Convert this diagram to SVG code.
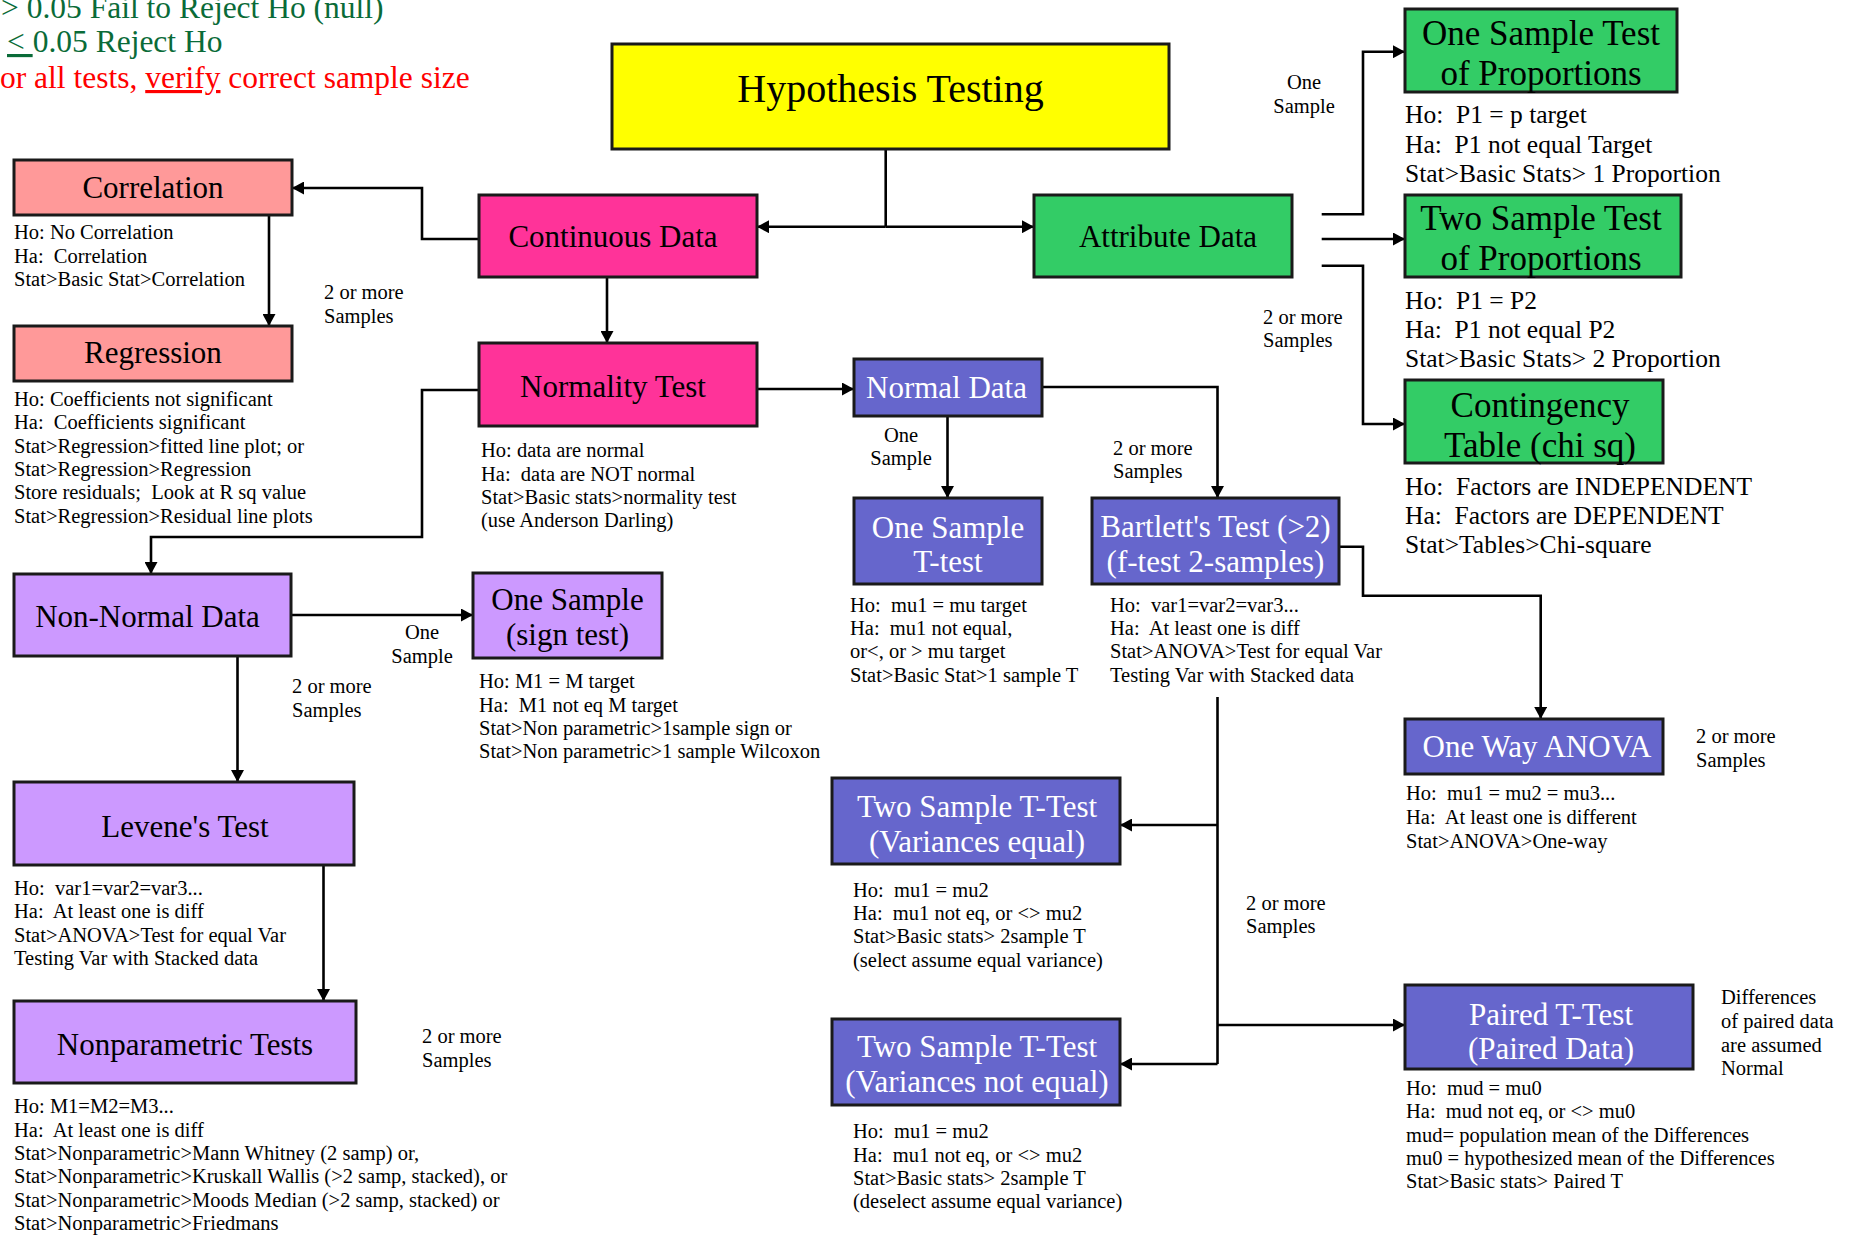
<svg xmlns="http://www.w3.org/2000/svg" width="1855" height="1235" viewBox="0 0 1855 1235">
<style>
text{font-family:"Liberation Serif","Times New Roman",serif;fill:#000}
.box{stroke:#1a1a1a;stroke-width:3}
.yel{fill:#ffff00}.sal{fill:#ff9999}.pnk{fill:#ff3399}.grn{fill:#33cc66}.lav{fill:#cc99ff}.blu{fill:#6666cc}
.lbl{font-size:31px;text-anchor:middle}
.plbl{font-size:35px;text-anchor:middle}
.w{fill:#fff}
.body{font-size:20.5px}
.big{font-size:25.5px}
.mid{text-anchor:middle}
.hdr{font-size:31.5px}
.gr{fill:#0a6b38}
.rd{fill:#ff0000}
.ul{text-decoration:underline}
#connectors path{fill:none;stroke:#000;stroke-width:2.6}
</style>
<defs>
<marker id="ah" markerUnits="userSpaceOnUse" markerWidth="12" markerHeight="13" viewBox="0 0 12 13" refX="12" refY="6.5" orient="auto">
<path d="M0,0 L12,6.5 L0,13 z" fill="#000"/>
</marker>
</defs>
<rect width="1855" height="1235" fill="#fff"/>

<g id="header">
<text class="hdr gr" x="1" y="18">&gt; 0.05 Fail to Reject Ho (null)</text>
<text class="hdr gr" x="7" y="52"><tspan class="ul">&lt; </tspan>0.05 Reject Ho</text>
<text class="hdr rd" x="0" y="88">or all tests, <tspan class="ul">verify</tspan> correct sample size</text>
</g>

<g id="connectors">
<path d="M885.7,149 V226.7"/>
<path d="M885.7,226.7 H757" marker-end="url(#ah)"/>
<path d="M885.7,226.7 H1034" marker-end="url(#ah)"/>
<path d="M479,239 H422 V188 H292" marker-end="url(#ah)"/>
<path d="M269,215 V326" marker-end="url(#ah)"/>
<path d="M607,277 V343" marker-end="url(#ah)"/>
<path d="M757,389 H854" marker-end="url(#ah)"/>
<path d="M479,390 H422 V537 H151 V574" marker-end="url(#ah)"/>
<path d="M291,615 H473" marker-end="url(#ah)"/>
<path d="M237.5,656 V782" marker-end="url(#ah)"/>
<path d="M323.5,865 V1001" marker-end="url(#ah)"/>
<path d="M947.5,416 V498" marker-end="url(#ah)"/>
<path d="M1042,387 H1217.5 V498" marker-end="url(#ah)"/>
<path d="M1339,546.7 H1363 V595.7 H1540.7 V719" marker-end="url(#ah)"/>
<path d="M1217.5,697 V1064"/>
<path d="M1217.5,825 H1120" marker-end="url(#ah)"/>
<path d="M1217.5,1025 H1405" marker-end="url(#ah)"/>
<path d="M1217.5,1064 H1120" marker-end="url(#ah)"/>
<path d="M1321.7,214.3 H1363 V51.7 H1405" marker-end="url(#ah)"/>
<path d="M1321.7,239 H1405" marker-end="url(#ah)"/>
<path d="M1321.7,265.7 H1363 V424 H1405" marker-end="url(#ah)"/>
</g>

<g id="edge-labels">
<text class="body mid" x="1304" y="89">One<tspan x="1304" y="113">Sample</tspan></text>
<text class="body" x="1263" y="324">2 or more<tspan x="1263" y="347">Samples</tspan></text>
<text class="body" x="324" y="299">2 or more<tspan x="324" y="323">Samples</tspan></text>
<text class="body mid" x="901" y="442">One<tspan x="901" y="465">Sample</tspan></text>
<text class="body" x="1113" y="455">2 or more<tspan x="1113" y="478">Samples</tspan></text>
<text class="body mid" x="422" y="639">One<tspan x="422" y="663">Sample</tspan></text>
<text class="body" x="292" y="693">2 or more<tspan x="292" y="717">Samples</tspan></text>
<text class="body" x="1696" y="743">2 or more<tspan x="1696" y="767">Samples</tspan></text>
<text class="body" x="1246" y="910">2 or more<tspan x="1246" y="933">Samples</tspan></text>
<text class="body" x="422" y="1043">2 or more<tspan x="422" y="1067">Samples</tspan></text>
<text class="body" x="1721" y="1004">Differences<tspan x="1721" y="1027.5">of paired data</tspan><tspan x="1721" y="1051.5">are assumed</tspan><tspan x="1721" y="1075">Normal</tspan></text>
</g>

<g id="hypothesis-testing">
<rect class="box yel" x="612" y="44" width="557" height="105"/>
<text class="mid" style="font-size:40px" x="890.5" y="102">Hypothesis Testing</text>
</g>

<g id="correlation">
<rect class="box sal" x="14" y="160" width="278" height="55"/>
<text class="lbl" x="153" y="198">Correlation</text>
<text class="body" x="14" y="239">Ho: No Correlation<tspan x="14" y="262.5">Ha:&#160; Correlation</tspan><tspan x="14" y="286">Stat&gt;Basic Stat&gt;Correlation</tspan></text>
</g>

<g id="regression">
<rect class="box sal" x="14" y="326" width="278" height="55"/>
<text class="lbl" x="153" y="363">Regression</text>
<text class="body" x="14" y="406">Ho: Coefficients not significant<tspan x="14" y="429.3">Ha:&#160; Coefficients significant</tspan><tspan x="14" y="452.7">Stat&gt;Regression&gt;fitted line plot; or</tspan><tspan x="14" y="476">Stat&gt;Regression&gt;Regression</tspan><tspan x="14" y="499.3">Store residuals;&#160; Look at R sq value</tspan><tspan x="14" y="522.7">Stat&gt;Regression&gt;Residual line plots</tspan></text>
</g>

<g id="continuous-data">
<rect class="box pnk" x="479" y="195" width="278" height="82"/>
<text class="lbl" x="613" y="247">Continuous Data</text>
</g>

<g id="attribute-data">
<rect class="box grn" x="1034" y="195" width="258" height="82"/>
<text class="lbl" x="1168" y="247">Attribute Data</text>
</g>

<g id="normality-test">
<rect class="box pnk" x="479" y="343" width="278" height="83"/>
<text class="lbl" x="613" y="397">Normality Test</text>
<text class="body" x="481" y="457">Ho: data are normal<tspan x="481" y="480.5">Ha:&#160; data are NOT normal</tspan><tspan x="481" y="504">Stat&gt;Basic stats&gt;normality test</tspan><tspan x="481" y="527">(use Anderson Darling)</tspan></text>
</g>

<g id="normal-data">
<rect class="box blu" x="854" y="359" width="188" height="57"/>
<text class="lbl w" x="946.5" y="398">Normal Data</text>
</g>

<g id="one-sample-t-test">
<rect class="box blu" x="854" y="498" width="188" height="86"/>
<text class="lbl w" x="948" y="538">One Sample<tspan x="948" y="572">T-test</tspan></text>
<text class="body" x="850" y="611.7">Ho:&#160; mu1 = mu target<tspan x="850" y="635">Ha:&#160; mu1 not equal,</tspan><tspan x="850" y="658.3">or&lt;, or &gt; mu target</tspan><tspan x="850" y="681.7">Stat&gt;Basic Stat&gt;1 sample T</tspan></text>
</g>

<g id="bartletts-test">
<rect class="box blu" x="1092" y="498" width="247" height="86"/>
<text class="lbl w" x="1215.5" y="537">Bartlett's Test (&gt;2)<tspan x="1215.5" y="572">(f-test 2-samples)</tspan></text>
<text class="body" x="1110" y="611.7">Ho:&#160; var1=var2=var3...<tspan x="1110" y="635">Ha:&#160; At least one is diff</tspan><tspan x="1110" y="658.3">Stat&gt;ANOVA&gt;Test for equal Var</tspan><tspan x="1110" y="681.7">Testing Var with Stacked data</tspan></text>
</g>

<g id="non-normal-data">
<rect class="box lav" x="14" y="574" width="277" height="82"/>
<text class="lbl" x="147.5" y="627">Non-Normal Data</text>
</g>

<g id="one-sample-sign-test">
<rect class="box lav" x="473" y="573" width="189" height="85"/>
<text class="lbl" x="567.5" y="610">One Sample<tspan x="567.5" y="645">(sign test)</tspan></text>
<text class="body" x="479" y="688">Ho: M1 = M target<tspan x="479" y="711.5">Ha:&#160; M1 not eq M target</tspan><tspan x="479" y="735">Stat&gt;Non parametric&gt;1sample sign or</tspan><tspan x="479" y="758">Stat&gt;Non parametric&gt;1 sample Wilcoxon</tspan></text>
</g>

<g id="levenes-test">
<rect class="box lav" x="14" y="782" width="340" height="83"/>
<text class="lbl" x="185" y="837">Levene's Test</text>
<text class="body" x="14" y="895">Ho:&#160; var1=var2=var3...<tspan x="14" y="918.3">Ha:&#160; At least one is diff</tspan><tspan x="14" y="941.7">Stat&gt;ANOVA&gt;Test for equal Var</tspan><tspan x="14" y="965">Testing Var with Stacked data</tspan></text>
</g>

<g id="nonparametric-tests">
<rect class="box lav" x="14" y="1001" width="342" height="82"/>
<text class="lbl" x="185" y="1055">Nonparametric Tests</text>
<text class="body" x="14" y="1113">Ho: M1=M2=M3...<tspan x="14" y="1136.5">Ha:&#160; At least one is diff</tspan><tspan x="14" y="1160">Stat&gt;Nonparametric&gt;Mann Whitney (2 samp) or,</tspan><tspan x="14" y="1183.3">Stat&gt;Nonparametric&gt;Kruskall Wallis (&gt;2 samp, stacked), or</tspan><tspan x="14" y="1206.7">Stat&gt;Nonparametric&gt;Moods Median (&gt;2 samp, stacked) or</tspan><tspan x="14" y="1230">Stat&gt;Nonparametric&gt;Friedmans</tspan></text>
</g>

<g id="one-sample-proportions">
<rect class="box grn" x="1405" y="9" width="272" height="83"/>
<text class="plbl" x="1541" y="45">One Sample Test<tspan x="1541" y="85">of Proportions</tspan></text>
<text class="big" x="1405" y="123.3">Ho:&#160; P1 = p target<tspan x="1405" y="152.7">Ha:&#160; P1 not equal Target</tspan><tspan x="1405" y="181.7">Stat&gt;Basic Stats&gt; 1 Proportion</tspan></text>
</g>

<g id="two-sample-proportions">
<rect class="box grn" x="1405" y="195" width="276" height="82"/>
<text class="plbl" x="1541" y="230">Two Sample Test<tspan x="1541" y="270">of Proportions</tspan></text>
<text class="big" x="1405" y="309">Ho:&#160; P1 = P2<tspan x="1405" y="338">Ha:&#160; P1 not equal P2</tspan><tspan x="1405" y="367">Stat&gt;Basic Stats&gt; 2 Proportion</tspan></text>
</g>

<g id="contingency-table">
<rect class="box grn" x="1405" y="380" width="258" height="83"/>
<text class="plbl" x="1540" y="417">Contingency<tspan x="1540" y="457">Table (chi sq)</tspan></text>
<text class="big" x="1405" y="495">Ho:&#160; Factors are INDEPENDENT<tspan x="1405" y="524">Ha:&#160; Factors are DEPENDENT</tspan><tspan x="1405" y="553">Stat&gt;Tables&gt;Chi-square</tspan></text>
</g>

<g id="one-way-anova">
<rect class="box blu" x="1405" y="719" width="258" height="55"/>
<text class="lbl w" x="1537" y="757">One Way ANOVA</text>
<text class="body" x="1406" y="800">Ho:&#160; mu1 = mu2 = mu3...<tspan x="1406" y="824">Ha:&#160; At least one is different</tspan><tspan x="1406" y="848">Stat&gt;ANOVA&gt;One-way</tspan></text>
</g>

<g id="two-sample-t-equal">
<rect class="box blu" x="832" y="778" width="288" height="86"/>
<text class="lbl w" x="977" y="817">Two Sample T-Test<tspan x="977" y="852">(Variances equal)</tspan></text>
<text class="body" x="853" y="897">Ho:&#160; mu1 = mu2<tspan x="853" y="920">Ha:&#160; mu1 not eq, or &lt;&gt; mu2</tspan><tspan x="853" y="943.3">Stat&gt;Basic stats&gt; 2sample T</tspan><tspan x="853" y="966.7">(select assume equal variance)</tspan></text>
</g>

<g id="two-sample-t-not-equal">
<rect class="box blu" x="832" y="1019" width="288" height="86"/>
<text class="lbl w" x="977" y="1057">Two Sample T-Test<tspan x="977" y="1092">(Variances not equal)</tspan></text>
<text class="body" x="853" y="1138">Ho:&#160; mu1 = mu2<tspan x="853" y="1161.7">Ha:&#160; mu1 not eq, or &lt;&gt; mu2</tspan><tspan x="853" y="1185">Stat&gt;Basic stats&gt; 2sample T</tspan><tspan x="853" y="1208">(deselect assume equal variance)</tspan></text>
</g>

<g id="paired-t-test">
<rect class="box blu" x="1405" y="985" width="288" height="84"/>
<text class="lbl w" x="1551" y="1025">Paired T-Test<tspan x="1551" y="1059">(Paired Data)</tspan></text>
<text class="body" x="1406" y="1095">Ho:&#160; mud = mu0<tspan x="1406" y="1118">Ha:&#160; mud not eq, or &lt;&gt; mu0</tspan><tspan x="1406" y="1142">mud= population mean of the Differences</tspan><tspan x="1406" y="1165">mu0 = hypothesized mean of the Differences</tspan><tspan x="1406" y="1188">Stat&gt;Basic stats&gt; Paired T</tspan></text>
</g>
</svg>
